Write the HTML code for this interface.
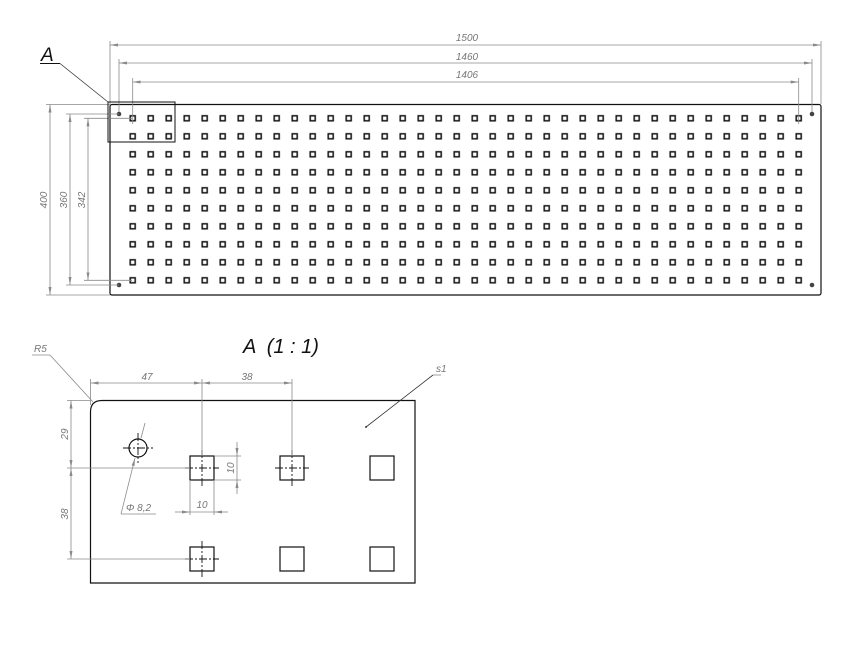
<!DOCTYPE html>
<html><head><meta charset="utf-8"><style>
html,body{margin:0;padding:0;background:#fff}
svg{display:block}
.d{stroke:#8a8a8a;stroke-width:0.8;fill:none}
.t{font-family:"Liberation Sans",sans-serif;font-style:italic;fill:#777;font-size:10px}
.k{stroke:#111;fill:none}
</style></head><body>
<svg width="867" height="650" viewBox="0 0 867 650" xmlns="http://www.w3.org/2000/svg">
<defs>
<pattern id="h" patternUnits="userSpaceOnUse" x="123.7" y="109.3" width="18" height="18">
<rect x="6.5" y="6.5" width="5" height="5" fill="none" stroke="#111" stroke-width="1.5"/>
</pattern>
<marker id="a" markerWidth="8" markerHeight="6" refX="8" refY="3" orient="auto-start-reverse" markerUnits="userSpaceOnUse"><path d="M0,1.5 L8,3 L0,4.5z" fill="#8a8a8a"/></marker>
</defs>
<rect x="110" y="104.5" width="711" height="190.5" rx="2" class="k" stroke-width="1.2"/>
<rect x="123.7" y="109.3" width="684" height="180" fill="url(#h)"/>
<g fill="#444"><circle cx="119" cy="114" r="2.3"/><circle cx="812" cy="114" r="2.3"/><circle cx="119" cy="285" r="2.3"/><circle cx="812" cy="285" r="2.3"/></g>
<line x1="110" y1="45" x2="821" y2="45" class="d" marker-start="url(#a)" marker-end="url(#a)"/>
<line x1="110" y1="41" x2="110" y2="104" class="d"/><line x1="821" y1="41" x2="821" y2="104" class="d"/>
<line x1="119" y1="63" x2="812" y2="63" class="d" marker-start="url(#a)" marker-end="url(#a)"/>
<line x1="119" y1="59" x2="119" y2="112" class="d"/><line x1="812" y1="59" x2="812" y2="112" class="d"/>
<line x1="132.7" y1="82" x2="798.7" y2="82" class="d" marker-start="url(#a)" marker-end="url(#a)"/>
<line x1="132.7" y1="78" x2="132.7" y2="124" class="d"/><line x1="798.7" y1="78" x2="798.7" y2="124" class="d"/>
<text x="467" y="41" class="t" text-anchor="middle">1500</text>
<text x="467" y="60" class="t" text-anchor="middle">1460</text>
<text x="467" y="78" class="t" text-anchor="middle">1406</text>
<line x1="50" y1="104.5" x2="50" y2="295" class="d" marker-start="url(#a)" marker-end="url(#a)"/>
<line x1="46" y1="104.5" x2="110" y2="104.5" class="d"/><line x1="46" y1="295" x2="110" y2="295" class="d"/>
<line x1="70" y1="114" x2="70" y2="285" class="d" marker-start="url(#a)" marker-end="url(#a)"/>
<line x1="66" y1="114" x2="119" y2="114" class="d"/><line x1="66" y1="285" x2="119" y2="285" class="d"/>
<line x1="88" y1="118.3" x2="88" y2="280.3" class="d" marker-start="url(#a)" marker-end="url(#a)"/>
<line x1="84" y1="118.3" x2="132" y2="118.3" class="d"/><line x1="84" y1="280.3" x2="132" y2="280.3" class="d"/>
<text transform="translate(47,200) rotate(-90)" class="t" text-anchor="middle">400</text>
<text transform="translate(67,200) rotate(-90)" class="t" text-anchor="middle">360</text>
<text transform="translate(85,200) rotate(-90)" class="t" text-anchor="middle">342</text>
<rect x="108" y="102" width="67" height="40" class="k" stroke-width="1"/>
<line x1="40" y1="63.5" x2="60" y2="63.5" stroke="#111" stroke-width="1"/>
<line x1="60" y1="63.5" x2="108" y2="102" stroke="#333" stroke-width="0.8"/>
<text x="41" y="61" font-family="Liberation Sans,sans-serif" font-style="italic" font-size="19" fill="#111">A</text>
<text x="243" y="353" font-family="Liberation Sans,sans-serif" font-style="italic" font-size="20" fill="#111" xml:space="preserve">A  (1 : 1)</text>
<path d="M90.5,412 Q90.5,400.5 102,400.5 L415,400.5 L415,583 L90.5,583 Z" class="k" stroke-width="1.2"/>
<g class="k" stroke-width="1.2">
<rect x="190" y="456" width="24" height="24"/><rect x="280" y="456" width="24" height="24"/><rect x="370" y="456" width="24" height="24"/>
<rect x="190" y="547" width="24" height="24"/><rect x="280" y="547" width="24" height="24"/><rect x="370" y="547" width="24" height="24"/>
<circle cx="138" cy="448" r="9"/>
</g>
<g stroke="#111" stroke-width="0.9" stroke-dasharray="8,2,2,2">
<line x1="185" y1="468" x2="219" y2="468"/><line x1="202" y1="450" x2="202" y2="486"/>
<line x1="275" y1="468" x2="309" y2="468"/><line x1="292" y1="450" x2="292" y2="486"/>
<line x1="185" y1="559" x2="219" y2="559"/><line x1="202" y1="541" x2="202" y2="577"/>
<line x1="123" y1="448" x2="153" y2="448"/><line x1="138" y1="433" x2="138" y2="463"/>
</g>
<line x1="90.5" y1="383" x2="202" y2="383" class="d" marker-start="url(#a)" marker-end="url(#a)"/>
<line x1="202" y1="383" x2="292" y2="383" class="d" marker-start="url(#a)" marker-end="url(#a)"/>
<line x1="90.5" y1="379" x2="90.5" y2="405" class="d"/>
<line x1="202" y1="379" x2="202" y2="456" class="d"/><line x1="292" y1="379" x2="292" y2="456" class="d"/>
<text x="147" y="380" class="t" text-anchor="middle">47</text>
<text x="247" y="380" class="t" text-anchor="middle">38</text>
<line x1="71" y1="400.5" x2="71" y2="468" class="d" marker-start="url(#a)" marker-end="url(#a)"/>
<line x1="71" y1="468" x2="71" y2="559" class="d" marker-start="url(#a)" marker-end="url(#a)"/>
<line x1="67" y1="400.5" x2="90" y2="400.5" class="d"/><line x1="67" y1="468" x2="190" y2="468" class="d"/><line x1="67" y1="559" x2="190" y2="559" class="d"/>
<text transform="translate(68,434) rotate(-90)" class="t" text-anchor="middle">29</text>
<text transform="translate(68,514) rotate(-90)" class="t" text-anchor="middle">38</text>
<line x1="237" y1="442" x2="237" y2="456" class="d" marker-end="url(#a)"/>
<line x1="237" y1="494" x2="237" y2="480" class="d" marker-end="url(#a)"/>
<line x1="237" y1="456" x2="237" y2="480" class="d"/>
<line x1="214" y1="456" x2="241" y2="456" class="d"/><line x1="214" y1="480" x2="241" y2="480" class="d"/>
<text transform="translate(234,468) rotate(-90)" class="t" text-anchor="middle">10</text>
<line x1="175" y1="512" x2="190" y2="512" class="d" marker-end="url(#a)"/>
<line x1="228" y1="512" x2="214" y2="512" class="d" marker-end="url(#a)"/>
<line x1="190" y1="512" x2="214" y2="512" class="d"/>
<line x1="190" y1="480" x2="190" y2="515" class="d"/><line x1="214" y1="480" x2="214" y2="515" class="d"/>
<text x="202" y="508" class="t" text-anchor="middle">10</text>
<line x1="121" y1="514" x2="156" y2="514" class="d"/>
<line x1="121" y1="514" x2="135" y2="458" class="d" marker-end="url(#a)"/>
<line x1="141" y1="438" x2="145" y2="423" class="d"/>
<text x="126" y="511" class="t" font-size="11">Φ 8,2</text>
<text x="34" y="352" class="t">R5</text>
<line x1="32" y1="355" x2="50" y2="355" class="d"/>
<line x1="50" y1="355" x2="93" y2="402" class="d"/>
<text x="436" y="372" class="t">s1</text>
<line x1="433" y1="375" x2="441" y2="375" class="d"/>
<line x1="433" y1="375" x2="366" y2="427" stroke="#333" stroke-width="0.8"/>
<circle cx="366" cy="427" r="0.9" fill="#111"/>
</svg>
</body></html>
